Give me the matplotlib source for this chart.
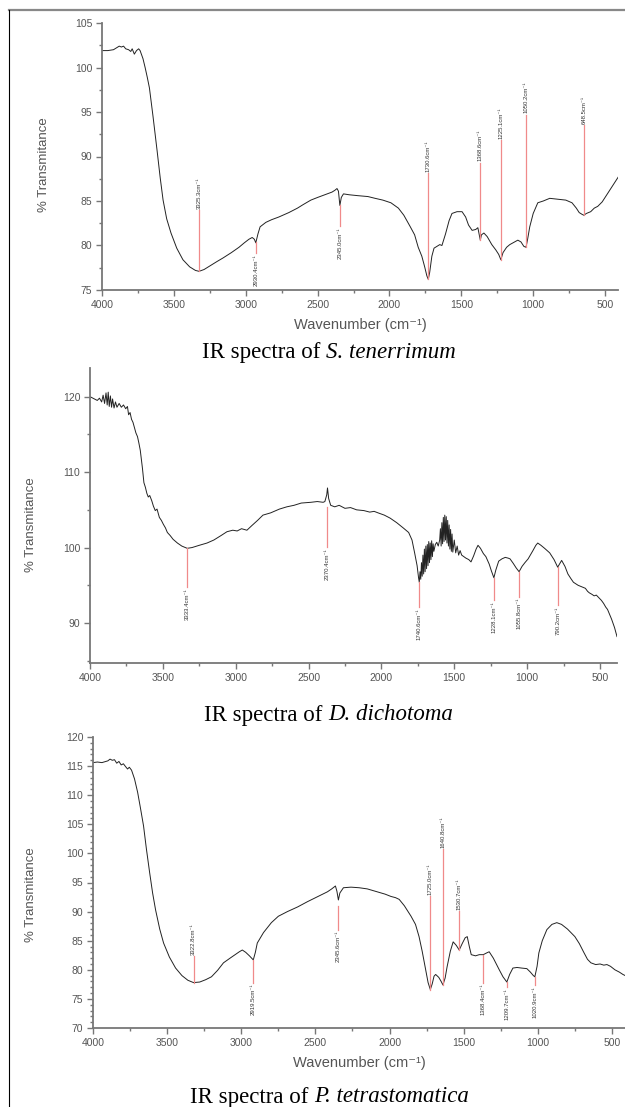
import matplotlib
matplotlib.use('Agg')
import matplotlib.pyplot as plt
from matplotlib.lines import Line2D
from matplotlib.ticker import MultipleLocator

plt.rcParams['font.family'] = ['Liberation Sans', 'DejaVu Sans']

# ---- S. tenerrimum ----
st_points = [
    (4000, 101.9), (3960, 101.9), (3920, 102.0), (3900, 102.2), (3880, 102.4), (3865, 102.3),
    (3850, 102.4), (3835, 102.1), (3815, 102.0), (3800, 101.8), (3790, 102.1), (3775, 101.5),
    (3760, 101.9), (3745, 102.1), (3735, 101.9), (3715, 101.0), (3700, 100.0), (3685, 98.9),
    (3670, 97.7), (3645, 94.5), (3617, 90.7), (3595, 87.6), (3575, 85.1), (3550, 83.0),
    (3520, 81.4), (3480, 79.7), (3437, 78.4), (3390, 77.6), (3350, 77.2), (3325, 77.1),
    (3290, 77.3), (3240, 77.8), (3200, 78.2), (3158, 78.6), (3100, 79.2), (3047, 79.8),
    (3010, 80.3), (2978, 80.7), (2955, 80.9), (2940, 80.7), (2930, 80.3), (2915, 81.3),
    (2900, 82.1), (2860, 82.6), (2820, 82.9), (2770, 83.2), (2700, 83.7), (2640, 84.2),
    (2600, 84.6), (2547, 85.1), (2500, 85.4), (2450, 85.7), (2400, 86.0), (2380, 86.2),
    (2365, 86.4), (2355, 86.1), (2345, 84.5), (2335, 85.4), (2320, 85.8), (2280, 85.7),
    (2220, 85.6), (2150, 85.5), (2100, 85.3), (2046, 85.1), (1990, 84.8), (1938, 84.2),
    (1900, 83.4), (1855, 82.1), (1825, 81.2), (1800, 79.8), (1775, 78.8), (1755, 77.6),
    (1740, 76.6), (1730, 76.2), (1720, 77.0), (1705, 78.8), (1690, 79.7), (1670, 79.9),
    (1650, 80.1), (1635, 80.0), (1610, 81.3), (1585, 82.8), (1565, 83.6), (1530, 83.8),
    (1495, 83.8), (1470, 83.2), (1450, 82.3), (1425, 81.7), (1400, 81.8), (1385, 82.0),
    (1375, 81.2), (1368, 80.6), (1360, 81.2), (1343, 81.4), (1320, 81.0), (1288, 80.1),
    (1260, 79.5), (1240, 79.0), (1225, 78.4), (1210, 79.2), (1185, 79.8), (1163, 80.1),
    (1130, 80.4), (1107, 80.6), (1085, 80.4), (1065, 79.9), (1050, 79.8), (1040, 80.6),
    (1024, 82.1), (1000, 83.6), (968, 84.8), (930, 85.0), (885, 85.3), (830, 85.2),
    (773, 85.1), (730, 84.8), (700, 84.2), (680, 83.7), (660, 83.5), (648, 83.4),
    (630, 83.6), (600, 83.8), (575, 84.2), (551, 84.4), (520, 84.9), (500, 85.4),
    (468, 86.2), (440, 86.9), (400, 87.9),
]
st_peaks = [3325, 2930, 2345, 1730, 1368, 1225, 1050, 648]
st_peak_tr = [77.1, 80.4, 84.5, 76.2, 80.6, 78.4, 79.8, 83.4]
st_label_tr = [84.0, 79.2, 82.2, 88.1, 89.3, 91.8, 94.7, 93.5]
st_labels = ['3325.3cm⁻¹', '2930.4cm⁻¹', '2345.0cm⁻¹', '1730.6cm⁻¹',
             '1368.6cm⁻¹', '1225.1cm⁻¹', '1050.2cm⁻¹', '648.5cm⁻¹']

# ---- D. dichotoma ----
dd_points = [
    (4000, 120.0), (3990, 119.9), (3970, 119.7), (3950, 119.5), (3935, 119.8), (3920, 119.3),
    (3910, 120.2), (3900, 119.1), (3890, 120.5), (3882, 118.9), (3875, 120.6), (3868, 118.7),
    (3860, 120.1), (3852, 118.6), (3845, 119.7), (3835, 118.5), (3825, 119.3), (3815, 118.6),
    (3800, 119.1), (3785, 118.6), (3770, 118.9), (3755, 118.4), (3743, 118.7), (3735, 117.6),
    (3725, 117.9), (3715, 117.0), (3705, 116.6), (3695, 115.9), (3685, 115.2), (3674, 114.7),
    (3665, 113.9), (3655, 112.9), (3647, 111.6), (3640, 110.5), (3630, 108.6), (3620, 108.0),
    (3610, 107.2), (3600, 106.7), (3590, 106.9), (3576, 106.2), (3565, 105.5), (3552, 104.9),
    (3540, 105.1), (3524, 104.0), (3510, 103.6), (3497, 103.1), (3482, 102.6), (3469, 102.0),
    (3450, 101.6), (3430, 101.1), (3400, 100.6), (3370, 100.2), (3333, 99.9), (3300, 100.0),
    (3250, 100.3), (3197, 100.6), (3150, 101.0), (3100, 101.6), (3060, 102.1), (3020, 102.3),
    (2990, 102.2), (2960, 102.5), (2923, 102.3), (2890, 102.9), (2850, 103.6), (2813, 104.3),
    (2760, 104.6), (2700, 105.1), (2649, 105.4), (2600, 105.6), (2550, 105.9), (2484, 106.0),
    (2440, 106.1), (2400, 106.0), (2388, 106.1), (2375, 107.0), (2370, 107.9), (2362, 106.5),
    (2348, 105.6), (2320, 105.4), (2290, 105.6), (2250, 105.2), (2212, 105.3), (2170, 105.0),
    (2120, 104.9), (2080, 104.7), (2050, 104.8), (2023, 104.6), (1980, 104.3), (1940, 103.9),
    (1895, 103.3), (1850, 102.6), (1813, 102.0), (1790, 101.0), (1772, 99.3), (1755, 97.6),
    (1745, 96.0), (1740, 95.4), (1735, 96.8), (1730, 95.8), (1725, 98.0), (1720, 96.2),
    (1715, 99.0), (1710, 96.5), (1705, 99.8), (1700, 96.8), (1695, 100.2), (1690, 97.2),
    (1685, 100.4), (1680, 97.6), (1675, 100.8), (1670, 98.0), (1665, 100.6), (1660, 98.4),
    (1655, 100.9), (1650, 98.8), (1645, 100.5), (1640, 99.5), (1630, 100.4), (1620, 100.7),
    (1610, 100.2), (1600, 101.0), (1595, 102.5), (1590, 100.2), (1585, 103.3), (1580, 100.5),
    (1575, 104.0), (1570, 100.8), (1565, 104.3), (1560, 101.0), (1555, 104.1), (1550, 100.6),
    (1545, 103.6), (1540, 100.2), (1535, 103.0), (1530, 99.8), (1525, 102.4), (1520, 99.5),
    (1515, 101.8), (1510, 99.4), (1500, 101.0), (1490, 99.3), (1480, 100.2), (1470, 99.0),
    (1460, 99.6), (1449, 99.0), (1420, 98.6), (1400, 98.4), (1385, 98.1), (1367, 98.9),
    (1350, 99.8), (1337, 100.3), (1320, 99.9), (1300, 99.2), (1283, 98.8), (1260, 97.8),
    (1245, 96.9), (1228, 96.0), (1215, 97.0), (1195, 98.2), (1173, 98.5), (1150, 98.7),
    (1130, 98.6), (1117, 98.5), (1095, 97.9), (1075, 97.3), (1055, 96.8), (1035, 97.5),
    (1015, 98.0), (993, 98.5), (960, 99.6), (940, 100.3), (927, 100.6), (905, 100.3),
    (880, 99.9), (845, 99.3), (815, 98.4), (790, 97.4), (775, 97.9), (763, 98.3),
    (740, 97.5), (720, 96.5), (700, 95.9), (682, 95.4), (650, 95.0), (625, 94.8),
    (600, 94.6), (585, 94.2), (573, 94.0), (555, 93.8), (540, 93.6), (525, 93.7),
    (505, 93.3), (490, 93.0), (475, 92.6), (460, 92.1), (448, 91.8), (437, 91.3),
    (420, 90.5), (400, 89.4), (383, 88.2),
]
dd_peaks = [3333, 2370, 1740, 1228, 1055, 790]
dd_peak_tr = [99.9, 105.4, 95.4, 96.0, 96.8, 97.4]
dd_label_tr = [94.8, 100.1, 92.1, 93.1, 93.5, 92.4]
dd_labels = ['3333.4cm⁻¹', '2370.4cm⁻¹', '1740.6cm⁻¹', '1228.1cm⁻¹', '1055.8cm⁻¹', '790.2cm⁻¹']

# ---- P. tetrastomatica ----
pt_points = [
    (4000, 115.6), (3970, 115.7), (3940, 115.6), (3915, 115.8), (3900, 115.9), (3885, 116.2),
    (3870, 116.0), (3855, 116.1), (3840, 115.5), (3825, 115.8), (3810, 115.2), (3795, 115.4),
    (3780, 114.9), (3767, 114.5), (3755, 114.8), (3740, 114.3), (3720, 112.8), (3699, 110.5),
    (3680, 107.8), (3659, 104.7), (3640, 100.8), (3618, 96.7), (3598, 93.2), (3578, 90.3),
    (3550, 87.0), (3524, 84.6), (3485, 82.2), (3443, 80.3), (3400, 79.0), (3360, 78.2),
    (3322, 77.8), (3280, 77.9), (3240, 78.3), (3201, 78.8), (3160, 79.9), (3120, 81.2),
    (3070, 82.1), (3013, 83.1), (2993, 83.4), (2970, 83.0), (2945, 82.4), (2930, 82.0),
    (2919, 81.7), (2905, 83.0), (2892, 84.6), (2850, 86.4), (2797, 88.1), (2750, 89.2),
    (2689, 90.0), (2620, 90.8), (2554, 91.7), (2490, 92.5), (2419, 93.4), (2390, 93.9),
    (2365, 94.4), (2355, 93.5), (2345, 92.0), (2335, 93.2), (2311, 94.1), (2260, 94.2),
    (2205, 94.1), (2150, 93.9), (2110, 93.6), (2071, 93.3), (2030, 93.0), (1990, 92.6),
    (1960, 92.4), (1935, 92.1), (1900, 91.0), (1855, 89.2), (1825, 87.8), (1801, 85.7),
    (1780, 83.2), (1760, 80.5), (1740, 77.8), (1725, 76.6), (1712, 77.6), (1700, 78.9),
    (1689, 79.2), (1668, 78.7), (1652, 78.0), (1640, 77.4), (1625, 78.6), (1612, 80.5),
    (1590, 83.2), (1571, 84.8), (1550, 84.2), (1530, 83.4), (1510, 84.5), (1490, 85.5),
    (1476, 85.7), (1462, 84.0), (1449, 82.6), (1420, 82.4), (1395, 82.6), (1368, 82.6),
    (1345, 82.9), (1328, 83.1), (1300, 82.0), (1280, 81.0), (1260, 80.0), (1235, 78.8),
    (1209, 77.9), (1190, 79.2), (1168, 80.3), (1140, 80.4), (1110, 80.3), (1074, 80.2),
    (1050, 79.6), (1030, 79.0), (1020, 78.8), (1005, 80.6), (993, 82.9), (970, 85.0),
    (939, 86.9), (905, 87.8), (872, 88.1), (840, 87.8), (800, 87.0), (750, 85.7),
    (720, 84.5), (690, 83.0), (665, 81.8), (642, 81.2), (610, 80.9), (580, 81.0),
    (555, 80.8), (534, 80.9), (510, 80.6), (480, 80.0), (450, 79.6), (426, 79.2),
    (410, 79.0),
]
pt_peaks = [3322, 2919, 2345, 1725, 1640, 1530, 1368, 1209, 1020]
pt_peak_tr = [77.8, 81.7, 91.0, 76.6, 77.4, 83.4, 82.6, 77.9, 78.8]
pt_label_tr = [82.3, 77.8, 86.9, 92.6, 100.7, 90.1, 77.8, 77.1, 77.4]
pt_labels = ['3322.8cm⁻¹', '2919.5cm⁻¹', '2345.6cm⁻¹', '1725.0cm⁻¹', '1640.8cm⁻¹',
             '1530.7cm⁻¹', '1368.4cm⁻¹', '1209.7cm⁻¹', '1020.9cm⁻¹']

species = ['S. tenerrimum', 'D. dichotoma', 'P. tetrastomatica']

W, H = 625, 1107
fig = plt.figure(figsize=(W / 100, H / 100), dpi=100)


def box(l, r, t, b):
    return [l / W, 1 - b / H, (r - l) / W, (b - t) / H]


def panel(ax, points, peaks, peak_tr, label_tr, labels, xlim, ylim, ymaj, ymin):
    wn = [p[0] for p in points]
    tr = [p[1] for p in points]
    ax.plot(wn, tr, color='#222222', lw=0.7)
    for x, t0, t1, txt in zip(peaks, peak_tr, label_tr, labels):
        ax.plot([x, x], [t0, t1], color='#f08a8a', lw=0.9)
        up = t1 > t0
        ax.annotate(txt, (x, t1), xytext=(0, 1 if up else -1), textcoords='offset points',
                    rotation=90, ha='center', va='bottom' if up else 'top',
                    fontsize=4.3, color='#333333')
    ax.set_xlim(*xlim)
    ax.set_ylim(*ylim)
    ax.xaxis.set_major_locator(MultipleLocator(500))
    ax.xaxis.set_minor_locator(MultipleLocator(250))
    ax.yaxis.set_major_locator(MultipleLocator(ymaj))
    ax.yaxis.set_minor_locator(MultipleLocator(ymin))
    for s in ['top', 'right']:
        ax.spines[s].set_visible(False)
    for s in ['left', 'bottom']:
        ax.spines[s].set_color('#777777')
        ax.spines[s].set_linewidth(1.3)
    ax.tick_params(which='major', direction='out', length=4, width=1, colors='#777777',
                   labelcolor='#555555', labelsize=7.5, pad=3)
    ax.tick_params(which='minor', direction='out', length=2.5, width=1, colors='#777777')
    ax.set_ylabel('% Transmitance', fontsize=9.5, color='#555555')


ax1 = fig.add_axes(box(102, 618, 23, 290))
panel(ax1, st_points, st_peaks, st_peak_tr, st_label_tr, st_labels, (4000, 410), (75, 105), 5, 2.5)
ax1.set_xlabel('Wavenumber (cm⁻¹)', fontsize=10.5, color='#555555', labelpad=6)
ax1.yaxis.set_label_coords(-0.100, 0.468)

ax2 = fig.add_axes(box(90, 617, 368, 663))
panel(ax2, dd_points, dd_peaks, dd_peak_tr, dd_label_tr, dd_labels, (4000, 383), (84.7, 123.8), 10, 5)
ax2.yaxis.set_label_coords(-0.100, 0.468)

ax3 = fig.add_axes(box(93, 625, 737, 1028))
panel(ax3, pt_points, pt_peaks, pt_peak_tr, pt_label_tr, pt_labels, (4000, 412), (70, 120), 5, 1)
ax3.set_xlabel('Wavenumber (cm⁻¹)', fontsize=10.5, color='#555555', labelpad=6)
ax3.yaxis.set_label_coords(-0.105, 0.457)

# captions: upright part + italic species name, centred together
renderer = fig.canvas.get_renderer()
for name, y in zip(species, [353, 715, 1097]):
    t1 = fig.text(0, 1 - y / H, 'IR spectra of ', ha='left', va='center', fontsize=16.5,
                  family='Liberation Serif')
    t2 = fig.text(0, 1 - y / H, name, ha='left', va='center', fontsize=16.5,
                  family='Liberation Serif', style='italic')
    w1 = t1.get_window_extent(renderer).width
    w2 = t2.get_window_extent(renderer).width
    x0 = 329 - (w1 + w2) / 2
    t1.set_x(x0 / W)
    t2.set_x((x0 + w1) / W)

# page border lines
fig.add_artist(Line2D([9 / W, 1], [1 - 10 / H, 1 - 10 / H], color='#888888', lw=1.6,
                      transform=fig.transFigure))
fig.add_artist(Line2D([9 / W, 9 / W], [0, 1 - 10 / H], color='black', lw=0.8,
                      transform=fig.transFigure))

fig.savefig('out.png', dpi=100)
